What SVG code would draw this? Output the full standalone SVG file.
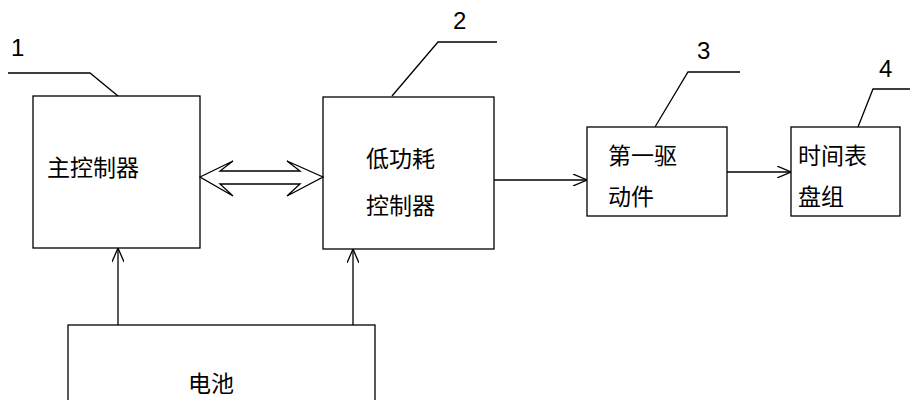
<svg xmlns="http://www.w3.org/2000/svg" width="919" height="400" viewBox="0 0 919 400">
<defs><marker id="a" markerWidth="14" markerHeight="12" refX="14" refY="6" orient="auto" markerUnits="userSpaceOnUse"><path d="M0,0 L14,6 L0,12" fill="none" stroke="#000" stroke-width="1.2"/></marker></defs>
<style>rect,path,polyline,polygon{fill:none;stroke:#000;stroke-width:1.3}text{font-family:"Noto Sans CJK SC","Liberation Sans",sans-serif;font-size:23px;fill:#000}.n{font-family:"Liberation Sans",sans-serif;font-size:24px}</style>
<rect width="919" height="400" style="fill:#fff;stroke:none"/>
<g id="n1"><rect x="33" y="96" width="167" height="152"/><text x="47" y="176">主控制器</text></g>
<g id="n2"><rect x="323" y="97" width="171" height="152"/><text x="366" y="167">低功耗</text><text x="366" y="214">控制器</text></g>
<g id="n3"><rect x="587" y="127" width="140" height="89"/><text x="608" y="164">第一驱</text><text x="608" y="205">动件</text></g>
<g id="n4"><rect x="791" y="127" width="109" height="89"/><text x="798" y="164">时间表</text><text x="798" y="205">盘组</text></g>
<g id="n5"><rect x="68" y="325" width="307" height="90"/><text x="188" y="392">电池</text></g>
<g id="labels"><text class="n" x="11" y="56">1</text><polyline points="8,73 90,73 118,96"/>
<text class="n" x="453" y="29">2</text><polyline points="497,42 438,42 392,96"/>
<text class="n" x="697" y="59">3</text><polyline points="740,72 688,72 655,127"/>
<text class="n" x="879" y="77">4</text><polyline points="910,89 873,89 858,127"/></g>
<g id="connectors">
<polygon points="200,177 233,161 220,171 300,171 287,161 323,177 287,196 300,184 220,184 233,196"/>
<path d="M494,180 H587" marker-end="url(#a)"/>
<path d="M727,172 H791" marker-end="url(#a)"/>
<path d="M118,325 V248" marker-end="url(#a)"/>
<path d="M353,325 V249" marker-end="url(#a)"/>
</g>
</svg>
